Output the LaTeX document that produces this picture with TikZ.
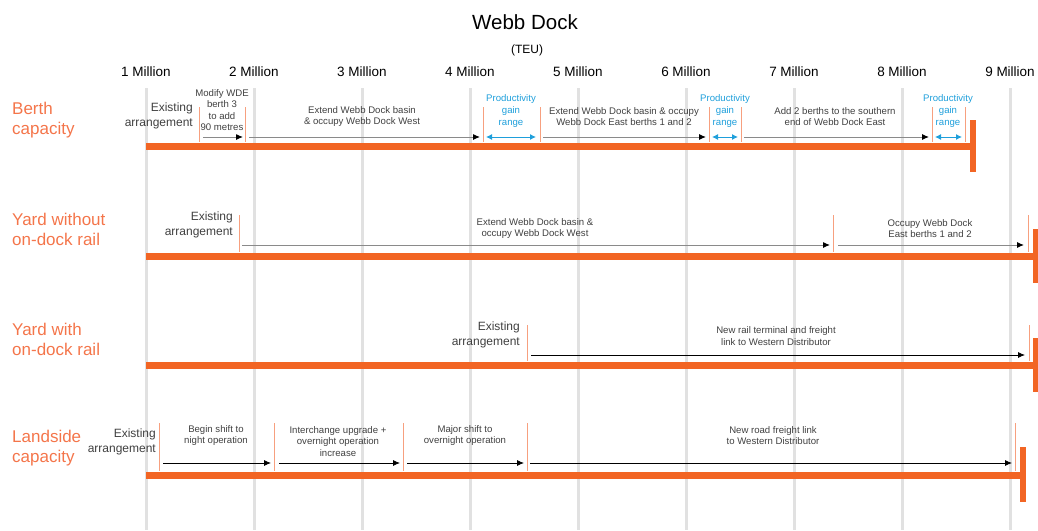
\documentclass[tikz,border=0pt]{standalone}
\usepackage{fontspec}
\setmainfont{Liberation Sans}
\usetikzlibrary{arrows.meta, positioning}

\definecolor{barorange}{HTML}{F26524}
\definecolor{labelorange}{HTML}{F4754A}
\definecolor{seporange}{HTML}{F7A07F}
\definecolor{gainblue}{HTML}{1E9FDB}
\definecolor{arrowgray}{HTML}{8A8A8A}
\definecolor{gridgray}{HTML}{E1E1E1}
\definecolor{textgray}{HTML}{404040}

\begin{document}
\begin{tikzpicture}[x=1pt, y=-1pt,
      gridline/.style={draw=gridgray, line width=3pt},
      bar/.style={draw=barorange, line width=7pt},
      endbar/.style={draw=barorange, line width=6pt},
      sep/.style={draw=seporange, line width=0.8pt},
      stage/.style={draw=arrowgray, line width=1pt, -{Latex[length=7pt, width=6pt, color=black]}},
      darkstage/.style={draw=black, line width=0.8pt, -{Latex[length=7pt, width=6pt]}},
      gain/.style={draw=gainblue, line width=1pt, {Latex[length=6pt, width=6pt]}-{Latex[length=6pt, width=6pt]}},
      rowlabel/.style={text=labelorange, font=\fontsize{17}{20}\selectfont, align=left, anchor=west, inner sep=0pt},
      existing/.style={text=textgray, font=\fontsize{12}{15}\selectfont, align=right, anchor=east, inner sep=0pt},
      note/.style={text=textgray, font=\fontsize{9.6}{11.5}\selectfont, align=center, inner sep=0pt},
      gainnote/.style={text=gainblue, font=\fontsize{9.6}{12}\selectfont, align=center, inner sep=0pt},
      million/.style={font=\fontsize{13.5}{15}\selectfont, inner sep=0pt}]

      \useasboundingbox (0,0) rectangle (1038,530);

      % Title
      \node[font=\fontsize{20.5}{24}\selectfont, inner sep=0pt] (title) at (525,22) {Webb Dock};
      \node[font=\fontsize{12}{14}\selectfont, inner sep=0pt] (teu) at (527,50) {(TEU)};

      % Grid and scale
      \foreach \m in {1,...,9} {
        \draw[gridline] ({146+108*(\m-1)},88) -- ({146+108*(\m-1)},530);
        \node[million] (m\m) at ({146+108*(\m-1)},72) {\m\ Million};
      }

      % Row labels
      \node[rowlabel] (berth) at (12,120) {Berth\\capacity};
      \node[rowlabel] (yardwo) at (12,229) {Yard without\\on-dock rail};
      \node[rowlabel] (yardw) at (12,339) {Yard with\\on-dock rail};
      \node[rowlabel] (land) at (12,448) {Landside\\capacity};

      % Berth capacity
      \draw[bar] (146,146) -- (975,146);
      \draw[endbar] (973,120) -- (973,172);
      \foreach \x in {199,245,483,540,709,741,932,965}
        \draw[sep] (\x,107) -- (\x,142);
      \coordinate (ba0) at (203,137);  \coordinate (ba1) at (243,137);
      \coordinate (bb0) at (249,137);  \coordinate (bb1) at (480,137);
      \coordinate (bg0) at (486,137);  \coordinate (bg1) at (536,137);
      \coordinate (bc0) at (543,137);  \coordinate (bc1) at (706,137);
      \coordinate (bh0) at (712,137);  \coordinate (bh1) at (738,137);
      \coordinate (bd0) at (744,137);  \coordinate (bd1) at (929,137);
      \coordinate (bi0) at (935,137);  \coordinate (bi1) at (962,137);
      \draw[stage] (ba0) -- (ba1);
      \draw[stage] (bb0) -- (bb1);
      \draw[stage] (bc0) -- (bc1);
      \draw[stage] (bd0) -- (bd1);
      \draw[gain] (bg0) -- (bg1);
      \draw[gain] (bh0) -- (bh1);
      \draw[gain] (bi0) -- (bi1);
      \node[existing] (bexist) at (193,115.5) {Existing\\arrangement};
      \node[note] (bmodify) at (222,110) {Modify WDE\\berth 3\\to add\\90 metres};
      \node[note] (bwest) at (362,116.5) {Extend Webb Dock basin\\\& occupy Webb Dock West};
      \node[gainnote] (bgain1) at (511,111) {Productivity\\gain\\range};
      \node[note] (beast) at (624,116.5) {Extend Webb Dock basin \& occupy\\Webb Dock East berths 1 and 2};
      \node[gainnote] (bgain2) at (725,111) {Productivity\\gain\\range};
      \node[note] (bsouth) at (835,116.5) {Add 2 berths to the southern\\end of Webb Dock East};
      \node[gainnote] (bgain3) at (948,111) {Productivity\\gain\\range};

      % Yard without on-dock rail
      \draw[bar] (146,256) -- (1038,256);
      \draw[endbar] (1036,229) -- (1036,283);
      \foreach \x in {239,833,1028}
        \draw[sep] (\x,215) -- (\x,252);
      \coordinate (wa0) at (242,245);  \coordinate (wa1) at (830,245);
      \coordinate (wb0) at (838,245);  \coordinate (wb1) at (1024,245);
      \draw[stage] (wa0) -- (wa1);
      \draw[stage] (wb0) -- (wb1);
      \node[existing] (wexist) at (233,224.5) {Existing\\arrangement};
      \node[note] (wwest) at (535,228.5) {Extend Webb Dock basin \&\\occupy Webb Dock West};
      \node[note] (weast) at (930,228.5) {Occupy Webb Dock\\East berths 1 and 2};

      % Yard with on-dock rail
      \draw[bar] (146,365) -- (1038,365);
      \draw[endbar] (1036,338) -- (1036,392);
      \foreach \x in {527,1029}
        \draw[sep] (\x,325) -- (\x,361);
      \coordinate (ra0) at (531,355);  \coordinate (ra1) at (1025,355);
      \draw[darkstage] (ra0) -- (ra1);
      \node[existing] (rexist) at (520,334.5) {Existing\\arrangement};
      \node[note] (rrail) at (776,336) {New rail terminal and freight\\link to Western Distributor};

      % Landside capacity
      \draw[bar] (146,475) -- (1022,475);
      \draw[endbar] (1023,447) -- (1023,502);
      \foreach \x in {159,274,403,527,1015}
        \draw[sep] (\x,423) -- (\x,471);
      \coordinate (la0) at (163,463);  \coordinate (la1) at (271,463);
      \coordinate (lb0) at (279,463);  \coordinate (lb1) at (400,463);
      \coordinate (lc0) at (407,463);  \coordinate (lc1) at (524,463);
      \coordinate (ld0) at (530,463);  \coordinate (ld1) at (1012,463);
      \draw[darkstage] (la0) -- (la1);
      \draw[darkstage] (lb0) -- (lb1);
      \draw[darkstage] (lc0) -- (lc1);
      \draw[darkstage] (ld0) -- (ld1);
      \node[existing] (lexist) at (156,442) {Existing\\arrangement};
      \node[note] (lbegin) at (216,435.5) {Begin shift to\\night operation};
      \node[note] (linter) at (338,441.5) {Interchange upgrade +\\overnight operation\\increase};
      \node[note] (lmajor) at (465,435.5) {Major shift to\\overnight operation};
      \node[note] (lroad) at (773,435.5) {New road freight link\\to Western Distributor};
    \end{tikzpicture}
\end{document}
